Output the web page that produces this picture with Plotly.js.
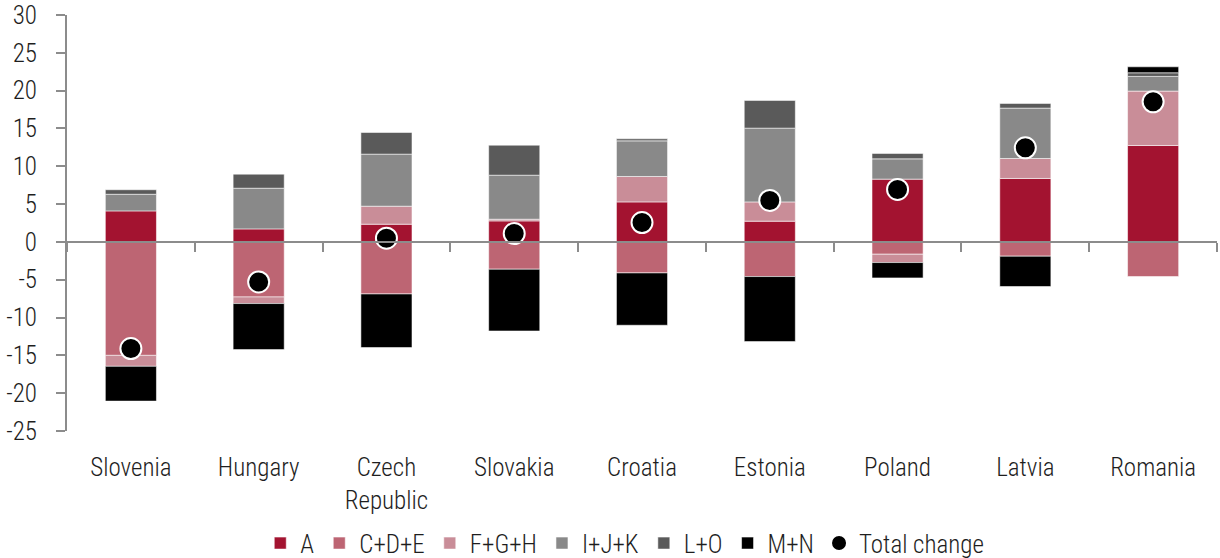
<!DOCTYPE html>
<html>
<head>
<meta charset="utf-8">
<script src="https://cdn.plot.ly/plotly-3.0.1.min.js"></script>
<style>html,body{margin:0;padding:0;background:#fff;}#chart{width:1220px;height:558px;}</style>
</head>
<body>
<div id="chart"></div>
<script>
const countries = ["Slovenia", "Hungary", "Czech<br>Republic", "Slovakia", "Croatia", "Estonia", "Poland", "Latvia", "Romania"];
const seriesA   = [4.1, 1.72, 2.34, 2.78, 5.29, 2.74, 8.3, 8.39, 12.75];
const seriesCDE = [-15.0, -7.28, -6.88, -3.61, -4.1, -4.58, -1.63, -1.89, -4.58];
const seriesFGH = [-1.45, -0.87, 2.38, 0.22, 3.36, 2.55, -1.1, 2.64, 7.19];
const seriesIJK = [2.2, 5.38, 6.88, 5.82, 4.71, 9.75, 2.68, 6.66, 1.94];
const seriesLO  = [0.6, 1.86, 2.87, 3.97, 0.27, 3.67, 0.72, 0.62, 0.48];
const seriesMN  = [-4.6, -6.09, -7.09, -8.17, -6.92, -8.6, -2.03, -4.01, 0.79];
const totalChange = [-14.1, -5.29, 0.49, 1.1, 2.56, 5.48, 6.93, 12.44, 18.52];
const yTicks = [-25, -20, -15, -10, -5, 0, 5, 10, 15, 20, 25, 30];
const yTickLabels = ["-25", "-20", "-15", "-10", "-5", "0", "5", "10", "15", "20", "25", "30"];

const FONT = "'Roboto Condensed', 'Liberation Sans Narrow', 'DejaVu Sans Condensed', 'Roboto', sans-serif";
const TXT = "#1e1e1e";
const AX = "#8c8c8c";

function barTrace(name, vals, color) {
  return {
    type: "bar", name: name, x: countries, y: vals,
    marker: {color: color, line: {color: "rgba(255,255,255,0.55)", width: 1}},
    hoverinfo: "name+y"
  };
}

const traces = [
  barTrace("A", seriesA, "#A31330"),
  barTrace("C+D+E", seriesCDE, "#BD6573"),
  barTrace("F+G+H", seriesFGH, "#C98D98"),
  barTrace("I+J+K", seriesIJK, "#898989"),
  barTrace("L+O", seriesLO, "#5A5A5A"),
  barTrace("M+N", seriesMN, "#000000"),
  {
    type: "scatter", mode: "markers", name: "Total change",
    x: countries, y: totalChange, xaxis: "x2", yaxis: "y",
    marker: {color: "#000000", size: 21, line: {color: "#ffffff", width: 2}}
  }
];

const layout = {
  width: 1220, height: 558,
  margin: {l: 67, r: 3, t: 15, b: 127, autoexpand: false},
  paper_bgcolor: "#ffffff", plot_bgcolor: "#ffffff",
  font: {family: FONT, size: 25, color: TXT, weight: 300},
  barmode: "relative",
  bargap: 0.6,
  showlegend: true,
  legend: {
    orientation: "h", x: 0.485, xanchor: "center", y: -0.27, yanchor: "middle",
    font: {family: FONT, size: 25, color: TXT, weight: 300},
    itemclick: false, traceorder: "normal", itemwidth: 30
  },
  xaxis: {
    type: "category",
    anchor: "free", position: 25 / 55,
    showline: true, linecolor: AX, linewidth: 2,
    ticks: "outside", tickson: "boundaries", ticklen: 9, tickwidth: 2, tickcolor: AX,
    showticklabels: false, showgrid: false, zeroline: false,
    range: [-0.5, 8.5], fixedrange: true
  },
  xaxis2: {
    type: "category", overlaying: "x", anchor: "y", side: "bottom",
    showline: false, ticks: "", showgrid: false, zeroline: false,
    range: [-0.5, 8.5], automargin: false,
    tickfont: {family: FONT, size: 25, color: TXT, weight: 300},
    ticklabelstandoff: 19
  },
  yaxis: {
    range: [-25, 30], tickvals: yTicks, ticktext: yTickLabels,
    showline: true, linecolor: AX, linewidth: 2,
    ticks: "outside", ticklen: 9, tickwidth: 2, tickcolor: AX,
    showgrid: false, zeroline: false, automargin: false,
    tickfont: {family: FONT, size: 25, color: TXT, weight: 300},
    ticklabelstandoff: 14
  }
};

Plotly.newPlot("chart", traces, layout, {displayModeBar: false, staticPlot: true});
</script>
</body>
</html>
